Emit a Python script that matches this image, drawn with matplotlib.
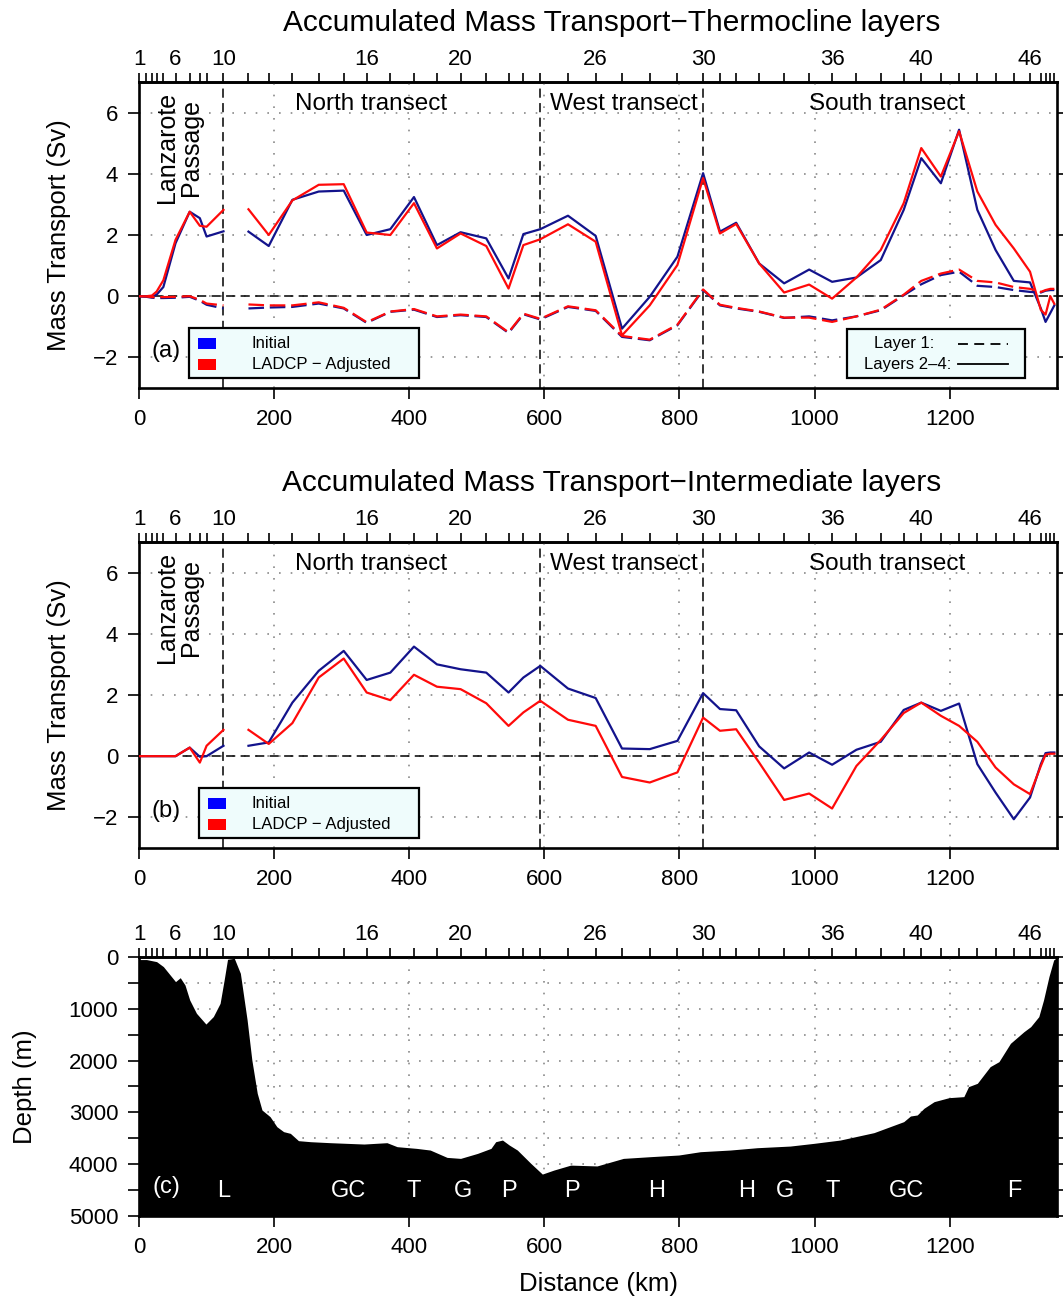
import numpy as np
import matplotlib
matplotlib.use('Agg')
import matplotlib.pyplot as plt
from matplotlib.patches import Rectangle
from matplotlib.lines import Line2D

plt.rcParams['font.family'] = ['Liberation Sans', 'DejaVu Sans']
plt.rcParams['axes.unicode_minus'] = True

# ---- station positions along the section (km) ----
station_km = [0, 11, 19, 26, 36, 54, 75, 90, 100, 125,
              162, 192, 227, 266, 303, 337, 372, 407, 441, 476,
              514, 547, 569, 594, 635, 676, 715, 756, 797, 835,
              860, 884, 918, 955, 992, 1026, 1062, 1098, 1132, 1158,
              1187, 1214, 1241, 1268, 1295, 1319, 1335, 1342, 1349, 1355]
station_labels = [1, 6, 10, 16, 20, 26, 30, 36, 40, 46]
transect_breaks = [10, 24, 30]          # station numbers of section boundaries
segment_split = 10                      # lines are interrupted after this station

# ---- accumulated transport, thermocline layers (Sv) ----
thermo_init_24 = [0, 0, -0.02, 0.05, 0.3, 1.73, 2.76, 2.55, 1.95, 2.12,
                  2.11, 1.64, 3.15, 3.42, 3.45, 2.0, 2.19, 3.24, 1.67, 2.09,
                  1.89, 0.58, 2.03, 2.19, 2.63, 1.97, -1.06, -0.02, 1.29, 4.02,
                  2.11, 2.4, 1.07, 0.42, 0.87, 0.47, 0.61, 1.18, 2.82, 4.51,
                  3.69, 5.44, 2.82, 1.51, 0.5, 0.45, -0.4, -0.84, -0.55, -0.3]
thermo_adj_24 = [0, 0, 0.02, 0.15, 0.52, 1.84, 2.76, 2.3, 2.27, 2.82,
                 2.84, 2.0, 3.13, 3.64, 3.66, 2.08, 2.0, 3.04, 1.56, 2.05,
                 1.64, 0.25, 1.67, 1.86, 2.35, 1.78, -1.28, -0.3, 1.02, 3.86,
                 2.05, 2.36, 1.07, 0.12, 0.38, -0.08, 0.61, 1.51, 3.04, 4.84,
                 3.91, 5.39, 3.42, 2.33, 1.56, 0.8, -0.45, -0.6, 0.0, -0.25]
thermo_init_1 = [0, -0.02, -0.05, -0.06, -0.06, -0.05, -0.02, -0.15, -0.28, -0.4,
                 -0.4, -0.37, -0.35, -0.24, -0.4, -0.87, -0.51, -0.44, -0.68, -0.62,
                 -0.68, -1.2, -0.59, -0.76, -0.35, -0.48, -1.33, -1.44, -0.95, 0.2,
                 -0.3, -0.4, -0.51, -0.71, -0.66, -0.79, -0.66, -0.46, 0.03, 0.39,
                 0.69, 0.8, 0.34, 0.3, 0.2, 0.14, 0.12, 0.18, 0.2, 0.2]
thermo_adj_1 = [0, -0.01, -0.03, -0.03, -0.03, -0.02, 0.0, -0.12, -0.24, -0.3,
                -0.27, -0.3, -0.3, -0.2, -0.38, -0.85, -0.5, -0.42, -0.66, -0.6,
                -0.66, -1.18, -0.57, -0.74, -0.33, -0.46, -1.3, -1.42, -0.93, 0.22,
                -0.28, -0.38, -0.5, -0.7, -0.7, -0.84, -0.66, -0.44, 0.05, 0.5,
                0.74, 0.87, 0.5, 0.45, 0.3, 0.24, 0.14, 0.2, 0.24, 0.24]

# ---- accumulated transport, intermediate layers (Sv) ----
inter_init = [0, 0, 0, 0, 0, 0, 0.28, -0.02, 0, 0.34,
              0.34, 0.45, 1.75, 2.79, 3.44, 2.49, 2.73, 3.58, 3.0, 2.84,
              2.73, 2.08, 2.57, 2.95, 2.21, 1.9, 0.25, 0.23, 0.5, 2.06,
              1.54, 1.5, 0.32, -0.4, 0.12, -0.28, 0.21, 0.47, 1.51, 1.75,
              1.48, 1.72, -0.26, -1.19, -2.06, -1.35, -0.26, 0.1, 0.12, 0.12]
inter_adj = [0, 0, 0, 0, 0, 0, 0.28, -0.21, 0.34, 0.86,
             0.86, 0.4, 1.08, 2.57, 3.19, 2.08, 1.83, 2.66, 2.27, 2.19,
             1.73, 0.99, 1.43, 1.81, 1.19, 0.99, -0.68, -0.86, -0.53, 1.26,
             0.83, 0.88, -0.21, -1.43, -1.22, -1.71, -0.32, 0.53, 1.41, 1.75,
             1.32, 0.99, 0.47, -0.37, -0.92, -1.24, -0.32, 0.05, 0.08, 0.08]

# ---- bottom topography along the section ----
bathy_km = [0, 11, 26, 36, 46, 54, 61, 68, 75, 85, 99, 110, 120, 126, 131, 141,
            150, 160, 167, 175, 182, 194, 204, 214, 224, 236, 254, 283, 333, 367,
            382, 411, 431, 456, 476, 501, 521, 528, 538, 548, 560, 580, 597, 614,
            639, 678, 717, 757, 799, 831, 875, 915, 964, 999, 1038, 1088, 1132,
            1142, 1152, 1162, 1177, 1199, 1221, 1228, 1241, 1260, 1273, 1290,
            1310, 1320, 1332, 1339, 1347, 1354, 1359]
bathy_depth = [50, 50, 90, 186, 347, 476, 400, 540, 830, 1087, 1295, 1150, 895, 444,
               45, 25, 315, 1216, 1988, 2632, 2954, 3083, 3276, 3372, 3405, 3546,
               3566, 3585, 3611, 3585, 3662, 3695, 3727, 3869, 3888, 3792, 3695,
               3566, 3534, 3630, 3727, 3985, 4191, 4114, 4018, 4034, 3888, 3855,
               3823, 3759, 3727, 3682, 3650, 3598, 3534, 3391, 3179, 3070, 3050,
               2921, 2793, 2716, 2696, 2503, 2439, 2117, 2021, 1667, 1442, 1345,
               1152, 830, 380, 58, 6]
feature_text = ['L', 'GC', 'T', 'G', 'P', 'P', 'H', 'H', 'G', 'T', 'GC', 'F']
feature_km = [126, 310, 407, 479, 547, 641, 766, 899, 957, 1027, 1136, 1296]

BLUE = '#13138c'
RED = '#ff0a0a'
GRID = '#8a8a8a'
XMAX = 1359

fig = plt.figure(figsize=(10.63, 12.99), dpi=100)
ax_a = fig.add_axes([0.1308, 0.7013, 0.8636, 0.2356])
ax_b = fig.add_axes([0.1308, 0.3472, 0.8636, 0.2356])
ax_c = fig.add_axes([0.1308, 0.0639, 0.8636, 0.1994])


def frame(ax):
    ax.set_xlim(0, XMAX)
    ax.set_xticks(np.arange(0, 1201, 200))
    for s in ax.spines.values():
        s.set_linewidth(1.9)
    ax.tick_params(which='both', direction='out', width=1.2, labelsize=16,
                   right=True, top=False, length=8)
    ax.tick_params(axis='x', pad=7)
    ax.tick_params(axis='y', pad=7)
    ax.set_axisbelow(True)
    top = ax.secondary_xaxis('top')
    top.set_xticks(station_km)
    top.set_xticklabels([str(i + 1) if (i + 1) in station_labels else ''
                         for i in range(len(station_km))])
    top.tick_params(direction='out', length=6.5, width=1.2, labelsize=16, pad=2)
    top.spines['top'].set_linewidth(1.9)


def transport_axes(ax):
    frame(ax)
    ax.set_ylim(-3, 7)
    ax.set_yticks([-2, 0, 2, 4, 6])
    ax.grid(True, color=GRID, linestyle=(0, (1, 6)), linewidth=1.2)
    ax.axhline(0, color='black', linestyle=(0, (6, 3.5)), linewidth=1.1, zorder=2)
    for st in transect_breaks:
        ax.axvline(station_km[st - 1], color='black', linestyle=(0, (6, 3.5)),
                   linewidth=1.1, zorder=2)
    ax.set_ylabel('Mass Transport (Sv)', fontsize=18.5, labelpad=16)
    tr = ax.get_xaxis_transform()
    for lab, x in [('North transect', 344), ('West transect', 718),
                   ('South transect', 1108)]:
        ax.text(x, 0.908, lab, transform=tr, ha='center', va='baseline',
                fontsize=17.5)
    ax.text(0.043, 0.785, 'Lanzarote\nPassage', transform=ax.transAxes,
            rotation=90, ha='center', va='center', fontsize=18, linespacing=1.0)


def draw_series(ax, values, color, ls, lw=1.6):
    x = np.array(station_km)
    y = np.array(values)
    for sl in (slice(0, segment_split), slice(segment_split, None)):
        ax.plot(x[sl], y[sl], color=color, linestyle=ls, linewidth=lw, zorder=3)


def color_legend(ax, x0, x1, sq_x, letter):
    ax.add_patch(Rectangle((x0, 0.033), x1 - x0, 0.162, transform=ax.transAxes,
                           facecolor='#effcfc', edgecolor='black', linewidth=1.6,
                           zorder=5))
    for yc, col, lab in [(0.145, '#0000ff', 'Initial'),
                         (0.077, '#ff0000', 'LADCP \u2212 Adjusted')]:
        ax.add_patch(Rectangle((sq_x - 0.0098, yc - 0.018), 0.0196, 0.036,
                               transform=ax.transAxes, facecolor=col,
                               edgecolor='none', zorder=6))
        ax.text(0.123, yc, lab, transform=ax.transAxes, ha='left', va='center',
                fontsize=12, zorder=6)
    ax.text(0.029, 0.12, letter, transform=ax.transAxes, ha='center',
            va='center', fontsize=17, zorder=6)


# (a) thermocline layers
transport_axes(ax_a)
draw_series(ax_a, thermo_init_24, BLUE, '-')
draw_series(ax_a, thermo_adj_24, RED, '-')
draw_series(ax_a, thermo_init_1, BLUE, (0, (7, 2.6)))
draw_series(ax_a, thermo_adj_1, RED, (0, (7, 2.6)))
color_legend(ax_a, 0.0545, 0.305, 0.074, '(a)')
ax_a.add_patch(Rectangle((0.771, 0.033), 0.194, 0.16, transform=ax_a.transAxes,
                         facecolor='#effcfc', edgecolor='black', linewidth=1.6,
                         zorder=5))
ax_a.text(0.833, 0.145, 'Layer 1:', transform=ax_a.transAxes, ha='center',
          va='center', fontsize=12, zorder=6)
ax_a.text(0.837, 0.077, 'Layers 2\u20134:', transform=ax_a.transAxes,
          ha='center', va='center', fontsize=12, zorder=6)
ax_a.add_line(Line2D([0.892, 0.947], [0.145, 0.145], transform=ax_a.transAxes,
                     color='black', linestyle=(0, (5.5, 3.5)), linewidth=1.3,
                     zorder=6))
ax_a.add_line(Line2D([0.892, 0.947], [0.077, 0.077], transform=ax_a.transAxes,
                     color='black', linestyle='-', linewidth=1.3, zorder=6))

# (b) intermediate layers
transport_axes(ax_b)
draw_series(ax_b, inter_init, BLUE, '-')
draw_series(ax_b, inter_adj, RED, '-')
color_legend(ax_b, 0.065, 0.305, 0.085, '(b)')

# (c) bottom topography
frame(ax_c)
ax_c.set_ylim(5000, 0)
ax_c.set_yticks(np.arange(0, 5001, 1000))
ax_c.set_yticks(np.arange(500, 5000, 1000), minor=True)
ax_c.tick_params(axis='x', which='minor', bottom=False)
ax_c.grid(True, which='both', axis='y', color=GRID, linestyle=(0, (1, 6)),
          linewidth=1.2)
ax_c.grid(True, which='major', axis='x', color=GRID, linestyle=(0, (1, 6)),
          linewidth=1.2)
ax_c.fill_between(bathy_km, bathy_depth, 5000, color='black', linewidth=0,
                  zorder=3)
for t, x in zip(feature_text, feature_km):
    ax_c.text(x, 4520, t, color='white', ha='center', va='center',
              fontsize=17, zorder=4)
ax_c.text(40, 4440, '(c)', color='white', ha='center', va='center',
          fontsize=17, zorder=4)
ax_c.set_ylabel('Depth (m)', fontsize=18.5, labelpad=23)
ax_c.set_xlabel('Distance (km)', fontsize=18.5, labelpad=10)

fig.text(0.575, 0.982, 'Accumulated Mass Transport\u2212Thermocline layers',
         ha='center', va='center', fontsize=21.5)
fig.text(0.575, 0.628, 'Accumulated Mass Transport\u2212Intermediate layers',
         ha='center', va='center', fontsize=21.5)

fig.savefig('out.png', dpi=100)
